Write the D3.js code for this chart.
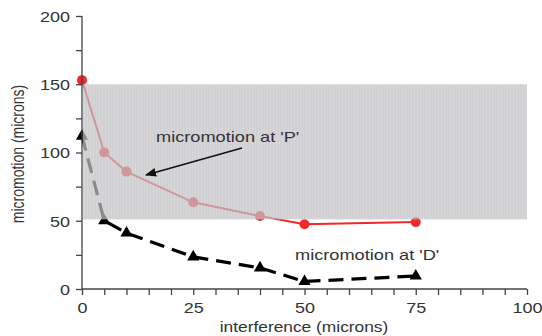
<!DOCTYPE html>
<html><head><meta charset="utf-8">
<script src="https://cdn.jsdelivr.net/npm/d3@7"></script>
<style>body{margin:0;background:#fff}svg{display:block}text{font-family:"Liberation Sans",Arial,sans-serif;fill:#333}</style>
</head><body><svg id="c" width="542" height="336"></svg>
<script>
const interference = [0, 5, 10, 25, 40, 50, 75];
const micromotionP = [153, 100, 86, 63.5, 53.5, 47.5, 49];
const micromotionD = [112, 50, 41, 23.5, 15.5, 5.5, 9.5];
const band = [51, 150];
const xTicks = [0, 25, 50, 75, 100];
const yTicks = [0, 50, 100, 150, 200];

const svg = d3.select("#c");
const x = d3.scaleLinear().domain([0, 100]).range([82, 527]);
const y = d3.scaleLinear().domain([0, 200]).range([289, 16]);

// series P
const lineP = d3.line().x((d,i)=>x(interference[i])).y(d=>y(d));
svg.append("path").attr("d", lineP(micromotionP)).attr("fill","none").attr("stroke","#ee2a2a").attr("stroke-width",2);
svg.selectAll("circle.p").data(micromotionP).enter().append("circle")
  .attr("cx",(d,i)=>x(interference[i])).attr("cy",d=>y(d)).attr("r",5).attr("fill","#f02a2a");

// series D
svg.append("path").attr("d", lineP(micromotionD)).attr("fill","none").attr("stroke","#000").attr("stroke-width",3.2).attr("stroke-dasharray","15,8");
const tri = d3.symbol().type(d3.symbolTriangle).size(65);
svg.selectAll("path.d").data(micromotionD).enter().append("path")
  .attr("transform",(d,i)=>`translate(${x(interference[i])},${y(d)})`).attr("d",tri).attr("fill","#000");

// band overlay (semi-transparent)
const defs = svg.append("defs");
const pat = defs.append("pattern").attr("id","stripes").attr("width",3).attr("height",4).attr("patternUnits","userSpaceOnUse");
pat.append("rect").attr("width",3).attr("height",4).attr("fill","#bfbfc2");
pat.append("rect").attr("width",1).attr("height",4).attr("fill","#c7c7ca");
svg.append("rect").attr("x",x(0)+1).attr("y",y(band[1])).attr("width",x(100)-x(0)-1).attr("height",y(band[0])-y(band[1]))
  .attr("fill","url(#stripes)").attr("opacity",0.72);

// axes
const xAxis = d3.axisBottom(x).tickValues(d3.range(0,101,5)).tickSize(6)
  .tickFormat(d=>xTicks.includes(d)?d:"");
const gx = svg.append("g").attr("transform",`translate(0,${y(0)})`).call(xAxis);
gx.selectAll("text").attr("font-size",15).attr("dy","1em").attr("transform","scale(1.2,1)");
const yAxis = d3.axisLeft(y).tickValues(d3.range(0,201,25)).tickSize(6)
  .tickFormat(d=>yTicks.includes(d)?d:"");
const gy = svg.append("g").attr("transform",`translate(${x(0)},0)`).call(yAxis);
gy.selectAll("text").attr("font-size",15).attr("dy","0.35em").attr("x",-10).attr("transform","scale(1.2,1)");
svg.selectAll(".domain, .tick line").attr("stroke","#444").attr("stroke-width",1.3);
gx.select(".domain").attr("d",`M${x(0)},0H${x(100)}`);
gy.select(".domain").attr("d",`M0,${y(0)}V${y(200)}`);

// axis titles
svg.append("text").attr("transform","translate(304,332) scale(1.24,1)").attr("text-anchor","middle").attr("font-size",14).text("interference (microns)");
svg.append("text").attr("transform","translate(24,154) rotate(-90) scale(1,1.3)").attr("text-anchor","middle").attr("font-size",14).text("micromotion (microns)");

// annotations
svg.append("text").attr("transform","translate(156,142) scale(1.3,1)").attr("font-size",14).text("micromotion at 'P'");
defs.append("marker").attr("id","ah").attr("viewBox","0 0 10 10").attr("refX",9).attr("refY",5)
  .attr("markerWidth",7).attr("markerHeight",7).attr("orient","auto")
  .append("path").attr("d","M0,1L10,5L0,9z").attr("fill","#111");
svg.append("line").attr("x1",242).attr("y1",148).attr("x2",146).attr("y2",175).attr("stroke","#111").attr("stroke-width",1.6).attr("marker-end","url(#ah)");
svg.append("text").attr("transform","translate(295,260) scale(1.3,1)").attr("font-size",14).text("micromotion at 'D'");
</script></body></html>
